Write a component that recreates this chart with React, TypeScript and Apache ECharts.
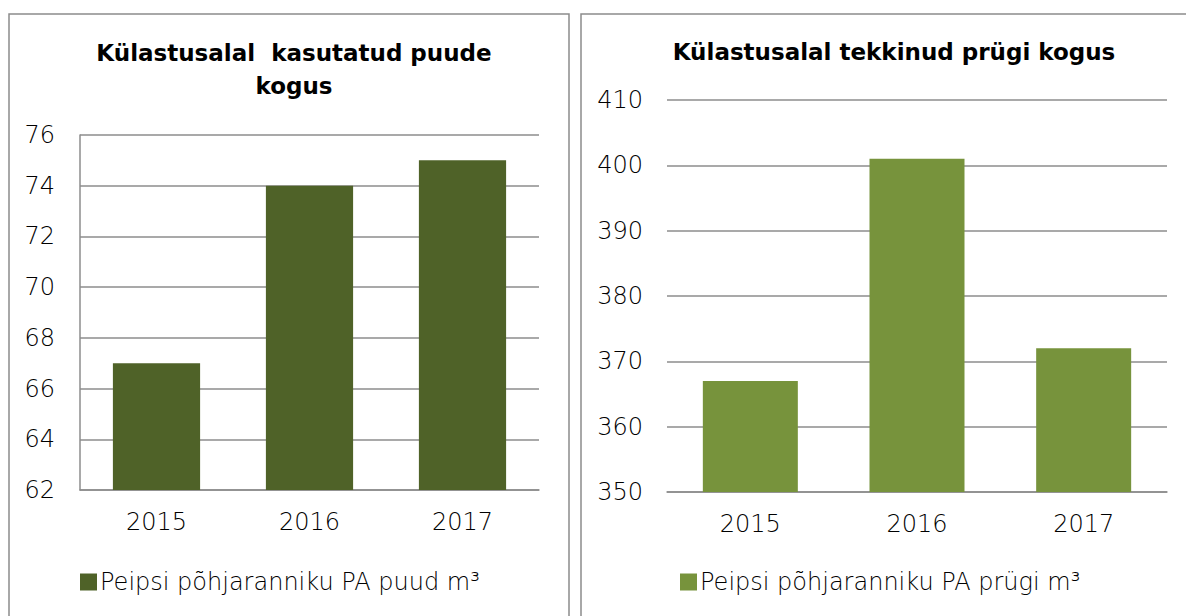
import React, { useEffect, useRef } from "react";
import * as echarts from "echarts";

const years = ["2015", "2016", "2017"];
const woodValues = [67, 74, 75];
const wasteValues = [367, 401, 372];
const woodTitle = "Külastusalal  kasutatud puude\nkogus";
const wasteTitle = "Külastusalal tekkinud prügi kogus";
const woodLegend = "Peipsi põhjaranniku PA puud m³";
const wasteLegend = "Peipsi põhjaranniku PA prügi m³";

const FONT = "'DejaVu Sans', sans-serif";
const GRID_COLOR = "#8c8c8c";

export default function App() {
  const ref = useRef<HTMLDivElement>(null);
  useEffect(() => {
    if (!ref.current) return;
    const chart = echarts.init(ref.current, null, { renderer: "svg" });
    const label = { fontFamily: FONT, fontSize: 24, fontWeight: 200, color: "#000" };
    chart.setOption({
      animation: false,
      backgroundColor: "#ffffff",
      textStyle: { fontFamily: FONT, color: "#000" },
      title: [
        {
          text: woodTitle,
          left: 289,
          top: 31,
          textAlign: "center",
          textStyle: { fontFamily: FONT, fontSize: 23, fontWeight: "bold", color: "#000", lineHeight: 33 },
        },
        {
          text: wasteTitle,
          left: 889,
          top: 35,
          textAlign: "center",
          textStyle: { fontFamily: FONT, fontSize: 23, fontWeight: "bold", color: "#000" },
        },
      ],
      legend: [
        {
          data: [woodLegend],
          left: 80,
          top: 570,
          padding: 0,
          itemWidth: 17,
          itemHeight: 17,
          icon: "rect",
          textStyle: { ...label, padding: [0, 0, 0, -2] },
        },
        {
          data: [wasteLegend],
          left: 680,
          top: 570,
          padding: 0,
          itemWidth: 17,
          itemHeight: 17,
          icon: "rect",
          textStyle: { ...label, padding: [0, 0, 0, -2] },
        },
      ],
      grid: [
        { left: 80, top: 135, width: 459, height: 355 },
        { left: 667, top: 100, width: 500, height: 392 },
      ],
      xAxis: [
        {
          type: "category",
          gridIndex: 0,
          data: years,
          axisLine: { show: true, lineStyle: { color: GRID_COLOR, width: 1.5 } },
          axisTick: { show: false },
          axisLabel: { ...label, margin: 20 },
        },
        {
          type: "category",
          gridIndex: 1,
          data: years,
          axisLine: { show: true, lineStyle: { color: GRID_COLOR, width: 1.5 } },
          axisTick: { show: false },
          axisLabel: { ...label, margin: 20 },
        },
      ],
      yAxis: [
        {
          type: "value",
          gridIndex: 0,
          min: 62,
          max: 76,
          interval: 2,
          axisLine: { show: true, lineStyle: { color: GRID_COLOR, width: 1.5 } },
          axisTick: { show: false },
          splitLine: { show: true, lineStyle: { color: GRID_COLOR, width: 1.5 } },
          axisLabel: { ...label, margin: 25 },
        },
        {
          type: "value",
          gridIndex: 1,
          min: 350,
          max: 410,
          interval: 10,
          axisLine: { show: false },
          axisTick: { show: false },
          splitLine: { show: true, lineStyle: { color: GRID_COLOR, width: 1.5 } },
          axisLabel: { ...label, margin: 24 },
        },
      ],
      series: [
        {
          name: woodLegend,
          type: "bar",
          xAxisIndex: 0,
          yAxisIndex: 0,
          data: woodValues,
          barWidth: "57%",
          itemStyle: { color: "#4F6228" },
        },
        {
          name: wasteLegend,
          type: "bar",
          xAxisIndex: 1,
          yAxisIndex: 1,
          data: wasteValues,
          barWidth: "57%",
          itemStyle: { color: "#77933C" },
        },
      ],
      graphic: [
        {
          type: "rect",
          shape: { x: 9, y: 14, width: 560, height: 620 },
          style: { fill: "none", stroke: "#8c8c8c", lineWidth: 1.5 },
          silent: true,
        },
        {
          type: "rect",
          shape: { x: 581, y: 14, width: 640, height: 620 },
          style: { fill: "none", stroke: "#8c8c8c", lineWidth: 1.5 },
          silent: true,
        },
      ],
    });
    return () => chart.dispose();
  }, []);
  return (
    <div
      ref={ref}
      style={{ position: "fixed", left: 0, top: 0, width: 1186, height: 616 }}
    />
  );
}
